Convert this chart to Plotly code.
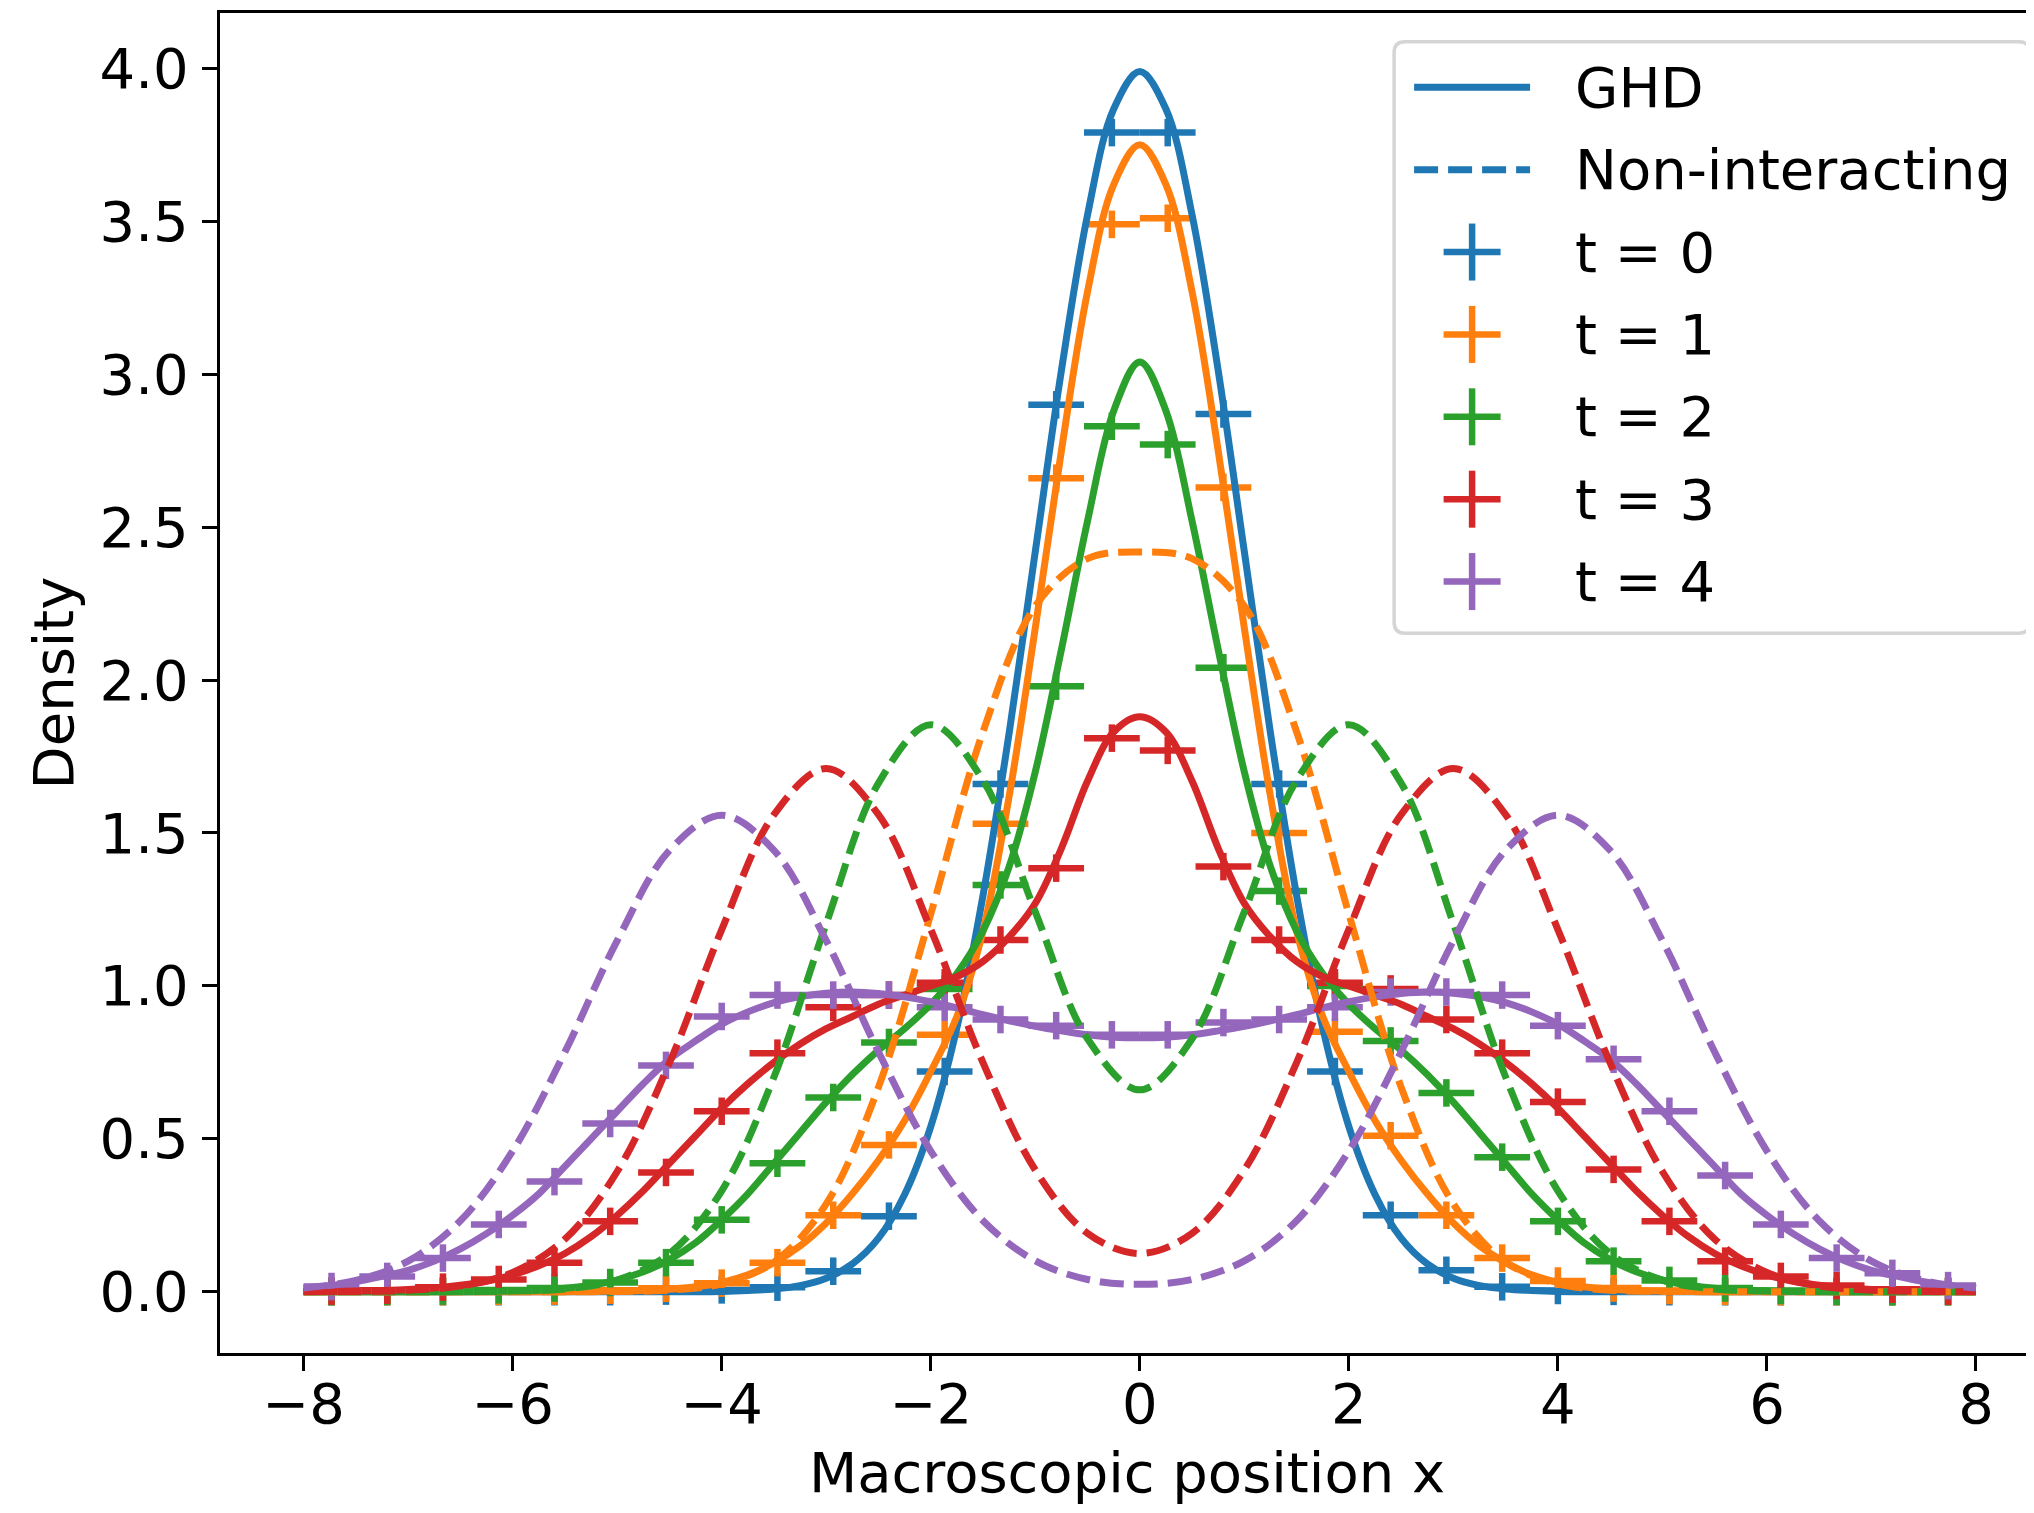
import plotly.graph_objects as go

# ---------------- data ----------------
x_curve = [-8.0, -7.75, -7.5, -7.25, -7.0, -6.75, -6.5, -6.25, -6.0, -5.75, -5.5, -5.25,
           -5.0, -4.75, -4.5, -4.25, -4.0, -3.75, -3.5, -3.25, -3.0, -2.75, -2.5, -2.25,
           -2.0, -1.75, -1.5, -1.25, -1.0, -0.75, -0.5, -0.25, 0.0, 0.25, 0.5, 0.75,
           1.0, 1.25, 1.5, 1.75, 2.0, 2.25, 2.5, 2.75, 3.0, 3.25, 3.5, 3.75,
           4.0, 4.25, 4.5, 4.75, 5.0, 5.25, 5.5, 5.75, 6.0, 6.25, 6.5, 6.75,
           7.0, 7.25, 7.5, 7.75, 8.0]

ghd_t0 = [0, 0, 0, 0, 0, 0, 0, 0, 0, 0, 0, 0, 0, 0, 0, 0,
          0.001, 0.004, 0.009, 0.020, 0.044, 0.091, 0.175, 0.318, 0.540, 0.863, 1.296, 1.827,
          2.420, 3.012, 3.521, 3.867, 3.99, 3.867, 3.521, 3.012, 2.420, 1.827, 1.296, 0.863,
          0.540, 0.318, 0.175, 0.091, 0.044, 0.020, 0.009, 0.004, 0.001,
          0, 0, 0, 0, 0, 0, 0, 0, 0, 0, 0, 0, 0, 0, 0, 0]
ghd_t1 = [0, 0, 0, 0, 0, 0, 0, 0, 0, 0, 0,
          0.001, 0.002, 0.004, 0.008, 0.016, 0.03, 0.055, 0.095, 0.15, 0.225, 0.32, 0.43,
          0.56, 0.72, 0.90, 1.18, 1.62, 2.17, 2.75, 3.27, 3.62, 3.75, 3.62, 3.27, 2.75,
          2.17, 1.62, 1.18, 0.90, 0.72, 0.56, 0.43, 0.32, 0.225, 0.15, 0.095, 0.055, 0.03,
          0.016, 0.008, 0.004, 0.002, 0.001,
          0, 0, 0, 0, 0, 0, 0, 0, 0, 0, 0]
ghd_t2 = [0, 0, 0, 0, 0, 0, 0,
          0.001, 0.0025, 0.005, 0.011, 0.021, 0.038, 0.065, 0.105, 0.16, 0.235, 0.32, 0.42,
          0.52, 0.62, 0.71, 0.79, 0.86, 0.94, 1.04, 1.18, 1.39, 1.70, 2.10, 2.52, 2.88,
          3.04,
          2.88, 2.52, 2.10, 1.70, 1.39, 1.18, 1.04, 0.94, 0.86, 0.79, 0.71, 0.62, 0.52,
          0.42, 0.32, 0.235, 0.16, 0.105, 0.065, 0.038, 0.021, 0.011, 0.005, 0.0025, 0.001,
          0, 0, 0, 0, 0, 0, 0]
ghd_t3 = [0.0005, 0.001, 0.002, 0.004, 0.007, 0.012, 0.021, 0.034, 0.055, 0.085, 0.125,
          0.18, 0.25, 0.33, 0.42, 0.51, 0.60, 0.68, 0.75, 0.81, 0.86, 0.90, 0.94, 0.97,
          1.00, 1.03, 1.08, 1.16, 1.27, 1.45, 1.67, 1.83, 1.88, 1.83, 1.67, 1.45, 1.27,
          1.16, 1.08, 1.03, 1.00, 0.97, 0.94, 0.90, 0.86, 0.81, 0.75, 0.68, 0.60, 0.51,
          0.42, 0.33, 0.25, 0.18, 0.125, 0.085, 0.055, 0.034, 0.021, 0.012, 0.007, 0.004,
          0.002, 0.001, 0.0005]
ghd_t4 = [0.012, 0.02, 0.033, 0.05, 0.07, 0.10, 0.14, 0.19, 0.25, 0.32, 0.41, 0.50,
          0.59, 0.68, 0.76, 0.82, 0.875, 0.915, 0.945, 0.965, 0.976, 0.98, 0.975, 0.964,
          0.948, 0.928, 0.906, 0.886, 0.868, 0.853, 0.84, 0.832, 0.83, 0.832, 0.84, 0.853,
          0.868, 0.886, 0.906, 0.928, 0.948, 0.964, 0.975, 0.98, 0.976, 0.965, 0.945, 0.915,
          0.875, 0.82, 0.76, 0.68, 0.59, 0.50, 0.41, 0.32, 0.25, 0.19, 0.14, 0.10,
          0.07, 0.05, 0.033, 0.02, 0.012]

x_coarse = [-8.0, -7.5, -7.0, -6.5, -6.0, -5.5, -5.0, -4.5, -4.0, -3.5, -3.0, -2.5,
            -2.0, -1.5, -1.0, -0.5, 0.0, 0.5, 1.0, 1.5, 2.0, 2.5, 3.0, 3.5,
            4.0, 4.5, 5.0, 5.5, 6.0, 6.5, 7.0, 7.5, 8.0]

free_t1 = [0, 0, 0, 0, 0, 0, 0.001, 0.005, 0.026, 0.097, 0.287, 0.669, 1.235, 1.831,
           2.242, 2.397, 2.419, 2.397, 2.242, 1.831, 1.235, 0.669, 0.287, 0.097, 0.026,
           0.005, 0.001, 0, 0, 0, 0, 0, 0]
free_t2 = [0, 0, 0, 0.0003, 0.002, 0.009, 0.038, 0.125, 0.330, 0.702, 1.204, 1.663,
           1.854, 1.672, 1.242, 0.827, 0.660, 0.827, 1.242, 1.672, 1.854, 1.663, 1.204,
           0.702, 0.330, 0.125, 0.038, 0.009, 0.002, 0.0003, 0, 0, 0]
free_t3 = [0.0002, 0.001, 0.005, 0.019, 0.063, 0.172, 0.393, 0.748, 1.184, 1.560, 1.711,
           1.560, 1.185, 0.749, 0.398, 0.191, 0.125, 0.191, 0.398, 0.749, 1.185, 1.560,
           1.711, 1.560, 1.184, 0.748, 0.393, 0.172, 0.063, 0.019, 0.005, 0.001, 0.0002]
free_t4 = [0.012, 0.037, 0.100, 0.232, 0.460, 0.784, 1.148, 1.443, 1.558, 1.443, 1.148,
           0.784, 0.460, 0.232, 0.101, 0.040, 0.024, 0.040, 0.101, 0.232, 0.460, 0.784,
           1.148, 1.443, 1.558, 1.443, 1.148, 0.784, 0.460, 0.232, 0.100, 0.037, 0.012]

bin_centres = [-7.733, -7.2, -6.667, -6.133, -5.6, -5.067, -4.533, -4.0, -3.467, -2.933,
               -2.4, -1.867, -1.333, -0.8, -0.267, 0.267, 0.8, 1.333, 1.867, 2.4,
               2.933, 3.467, 4.0, 4.533, 5.067, 5.6, 6.133, 6.667, 7.2, 7.733]
bin_half_width = 0.2667
sim_err = 0.045

sim_t0 = [0, 0, 0, 0, 0, 0, 0.002, 0.006, 0.015, 0.067, 0.247, 0.72, 1.66, 2.90, 3.79,
          3.79, 2.87, 1.66, 0.72, 0.25, 0.070, 0.016, 0.004, 0.001, 0, 0, 0, 0, 0, 0]
sim_t1 = [0, 0, 0, 0.001, 0.002, 0.005, 0.011, 0.028, 0.095, 0.25, 0.48, 0.84, 1.53, 2.66, 3.49,
          3.51, 2.63, 1.50, 0.85, 0.51, 0.25, 0.11, 0.035, 0.012, 0.004, 0.001, 0, 0, 0, 0]
sim_t2 = [0, 0.001, 0.002, 0.006, 0.012, 0.03, 0.095, 0.235, 0.42, 0.635, 0.815, 0.99, 1.33, 1.98, 2.83,
          2.77, 2.04, 1.31, 1.00, 0.82, 0.65, 0.44, 0.23, 0.10, 0.037, 0.012, 0.004, 0.001, 0, 0]
sim_t3 = [0.002, 0.005, 0.015, 0.04, 0.095, 0.23, 0.39, 0.59, 0.78, 0.93, 0.97, 1.01, 1.15, 1.385, 1.81,
          1.77, 1.39, 1.15, 1.01, 0.99, 0.89, 0.78, 0.62, 0.40, 0.23, 0.10, 0.05, 0.02, 0.008, 0.002]
sim_t4 = [0.017, 0.05, 0.11, 0.22, 0.36, 0.55, 0.74, 0.90, 0.97, 0.97, 0.97, 0.93, 0.89, 0.87, 0.84,
          0.84, 0.88, 0.89, 0.93, 0.98, 0.98, 0.97, 0.87, 0.76, 0.59, 0.38, 0.22, 0.11, 0.06, 0.02]

time_labels = ["t = 0", "t = 1", "t = 2", "t = 3", "t = 4"]
legend_lines = ["GHD", "Non-interacting"]

# ---------------- style ----------------
colors = ["#1f77b4", "#ff7f0e", "#2ca02c", "#d62728", "#9467bd"]
FONT = "DejaVu Sans"
FS = 56
LW = 7
EW = 6.5
DASH = "24px,10px"

# page body has an 8px margin: size the figure so it fits the 2034x1513 window
OFF = 8
W, H = 2026, 1497
L, R, T, B = 211.7, 0, 4.7, 152
PW, PH = W - L - R, H - T - B
XPX = 104.54          # px per x unit
YPX = 305.9           # px per y unit
x_lo = -8.8
x_hi = x_lo + PW / XPX
y_lo = -(1353 - 1291.7) / YPX
y_hi = y_lo + PH / YPX

ghd = [ghd_t0, ghd_t1, ghd_t2, ghd_t3, ghd_t4]
free = [None, free_t1, free_t2, free_t3, free_t4]
sims = [sim_t0, sim_t1, sim_t2, sim_t3, sim_t4]

fig = go.Figure()

# simulation histograms (error-bar crosses)
for i, s in enumerate(sims):
    fig.add_trace(go.Scatter(
        x=bin_centres, y=s, mode="markers",
        marker=dict(size=2, color=colors[i], opacity=0),
        error_x=dict(type="constant", value=bin_half_width, thickness=EW, width=0, color=colors[i]),
        error_y=dict(type="constant", value=sim_err, thickness=EW, width=0, color=colors[i]),
        showlegend=False, name=time_labels[i]))

# GHD curves
for i, g in enumerate(ghd):
    fig.add_trace(go.Scatter(
        x=x_curve, y=g, mode="lines", line=dict(color=colors[i], width=LW, shape="spline"),
        showlegend=False, name="GHD " + time_labels[i]))

# non-interacting curves
for i, f in enumerate(free):
    if f is None:
        continue
    fig.add_trace(go.Scatter(
        x=x_coarse, y=f, mode="lines",
        line=dict(color=colors[i], width=LW, dash=DASH, shape="spline"),
        showlegend=False, name="Non-interacting " + time_labels[i]))

# ---------------- manual legend (screen pixel layout -> paper coords) ----------------
def px_x(px):
    return (px - OFF - L) / PW

def px_y(py):
    return (T + PH - (py - OFF)) / PH

bx0, bx1, by0, by1, rr = 1394, 2030, 41.5, 633, 11

def P(px, py):
    return f"{px_x(px):.5f},{px_y(py):.5f}"

path = (f"M {P(bx0 + rr, by0)} L {P(bx1 - rr, by0)} Q {P(bx1, by0)} {P(bx1, by0 + rr)} "
        f"L {P(bx1, by1 - rr)} Q {P(bx1, by1)} {P(bx1 - rr, by1)} "
        f"L {P(bx0 + rr, by1)} Q {P(bx0, by1)} {P(bx0, by1 - rr)} "
        f"L {P(bx0, by0 + rr)} Q {P(bx0, by0)} {P(bx0 + rr, by0)} Z")
shapes = [dict(type="path", xref="paper", yref="paper", path=path,
               fillcolor="rgba(255,255,255,0.85)", line=dict(color="#d5d5d5", width=3.5))]
annotations = []

row0, dy = 87, 82.4
hx0, hx1, hcx, arm = 1414, 1530, 1472, 28.5
text_x = 1573
rows = [row0 + k * dy for k in range(7)]

# GHD solid
shapes.append(dict(type="line", xref="paper", yref="paper", x0=px_x(hx0), x1=px_x(hx1),
                   y0=px_y(rows[0]), y1=px_y(rows[0]), line=dict(color=colors[0], width=LW)))
# Non-interacting dashed
shapes.append(dict(type="line", xref="paper", yref="paper", x0=px_x(hx0), x1=px_x(hx1),
                   y0=px_y(rows[1]), y1=px_y(rows[1]),
                   line=dict(color=colors[0], width=LW, dash=DASH)))
for k, lab in enumerate(legend_lines):
    annotations.append(dict(xref="paper", yref="paper", x=px_x(text_x), y=px_y(rows[k]),
                            text=lab, showarrow=False, xanchor="left", yanchor="middle",
                            font=dict(family=FONT, size=FS, color="black")))
for i, lab in enumerate(time_labels):
    ry = rows[2 + i]
    shapes.append(dict(type="line", xref="paper", yref="paper", x0=px_x(hcx - arm), x1=px_x(hcx + arm),
                       y0=px_y(ry), y1=px_y(ry), line=dict(color=colors[i], width=EW)))
    shapes.append(dict(type="line", xref="paper", yref="paper", x0=px_x(hcx), x1=px_x(hcx),
                       y0=px_y(ry - arm), y1=px_y(ry + arm), line=dict(color=colors[i], width=EW)))
    annotations.append(dict(xref="paper", yref="paper", x=px_x(text_x), y=px_y(ry),
                            text=lab, showarrow=False, xanchor="left", yanchor="middle",
                            font=dict(family=FONT, size=FS, color="black")))

axis_common = dict(showgrid=False, zeroline=False, showline=True, linecolor="black",
                   linewidth=3.3, ticks="outside", ticklen=15, tickwidth=3.3,
                   tickcolor="black", automargin=False,
                   tickfont=dict(family=FONT, size=FS, color="black"))

fig.update_layout(
    width=W, height=H,
    margin=dict(l=L, r=R, t=T, b=B, pad=0, autoexpand=False),
    paper_bgcolor="white", plot_bgcolor="white",
    font=dict(family=FONT, size=FS, color="black"),
    showlegend=False,
    shapes=shapes, annotations=annotations,
    xaxis=dict(range=[x_lo, x_hi], tickmode="array",
               tickvals=[-8, -6, -4, -2, 0, 2, 4, 6, 8], mirror=True,
               ticklabelstandoff=-15,
               title=dict(text="Macroscopic position x", standoff=42,
                          font=dict(family=FONT, size=FS, color="black")),
               **axis_common),
    yaxis=dict(range=[y_lo, y_hi], tick0=0, dtick=0.5, tickformat=".1f", mirror=False,
               ticklabelstandoff=2,
               title=dict(text="Density", standoff=8,
                          font=dict(family=FONT, size=FS, color="black")),
               **axis_common),
)

fig.write_html("out.html")
